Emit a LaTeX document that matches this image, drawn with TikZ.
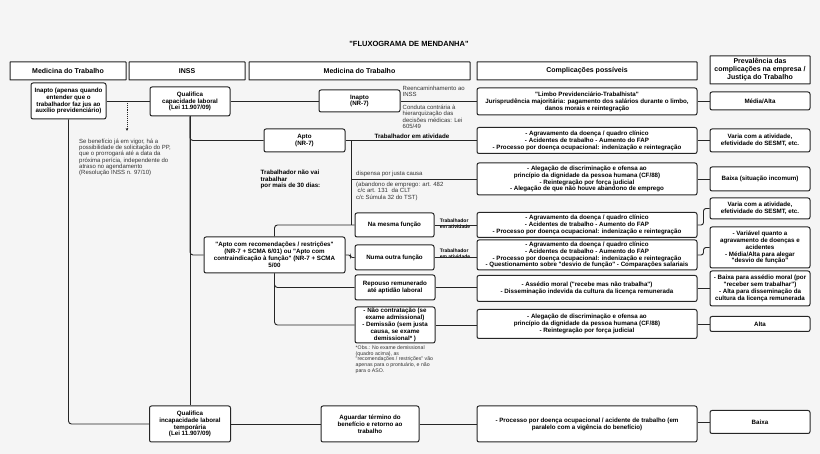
\documentclass[tikz,border=0pt]{standalone}
\usepackage{fontspec}
\setmainfont{Liberation Sans}[Ligatures=TeXOff]
\usetikzlibrary{arrows.meta}
\definecolor{bg}{HTML}{F5F5F5}
\definecolor{lc}{HTML}{262626}
\definecolor{tc}{HTML}{333333}
\tikzset{
  conn/.style={draw=lc, line width=0.9pt},
  box/.style={draw=lc, fill=white, line width=1pt, rounded corners=2pt, align=center, inner sep=1pt, text=black, font=\bfseries\fontsize{6.2}{6.9}\selectfont},
  hdr/.style={box, rounded corners=0.4pt, font=\bfseries\fontsize{7}{8}\selectfont},
  note/.style={align=left, inner sep=0pt, anchor=north west, text=tc, font=\fontsize{6}{6.3}\selectfont},
  lbl/.style={align=left, inner sep=0pt, text=black, font=\bfseries\fontsize{6.2}{6.4}\selectfont},
  slbl/.style={align=left, inner sep=0pt, text=black, font=\bfseries\fontsize{5}{5.6}\selectfont},
}
\begin{document}
\begin{tikzpicture}[x=1pt,y=-1pt]
\fill[bg] (0,0) rectangle (820,454);
\useasboundingbox (0,0) rectangle (820,454);

\node[font=\bfseries\fontsize{7.5}{9}\selectfont] (title) at (409,44) {"FLUXOGRAMA DE MENDANHA"};

\node[hdr, minimum width=116pt, minimum height=18pt] (h1) at (68,71) {Medicina do Trabalho};
\node[hdr, minimum width=116pt, minimum height=18pt] (h2) at (187,71) {INSS};
\node[hdr, minimum width=221pt, minimum height=18pt] (h3) at (359.5,71) {Medicina do Trabalho};
\node[hdr, minimum width=220pt, minimum height=18pt] (h4) at (587,71) {Complicações possíveis};
\node[hdr, minimum width=100pt, minimum height=28pt] (h5) at (760,70) {Prevalência das\\complicações na empresa /\\Justiça do Trabalho};

\node[box, minimum width=75pt, minimum height=36pt] (inapto0) at (68.5,101) {Inapto (apenas quando\\entender que o\\trabalhador faz jus ao\\auxílio previdenciário)};
\node[box, minimum width=80pt, minimum height=29pt] (qual1) at (190,101.5) {Qualifica\\capacidade laboral\\(Lei 11.907/09)};
\node[box, minimum width=81pt, minimum height=22pt] (inaptonr) at (359.5,101) {Inapto\\(NR-7)};
\node[box, minimum width=220pt, minimum height=27pt] (limbo) at (587,101.5) {"Limbo Previdenciário-Trabalhista"\\Jurisprudência majoritária: pagamento dos salários durante o limbo,\\danos morais e reintegração};
\node[box, minimum width=100pt, minimum height=18pt] (media) at (760,101) {Média/Alta};

\node[box, minimum width=81pt, minimum height=23pt] (apto) at (304.5,140.5) {Apto\\(NR-7)};
\node[box, minimum width=220pt, minimum height=26pt] (comp1) at (587,140.5) {- Agravamento da doença / quadro clínico\\- Acidentes de trabalho - Aumento do FAP\\- Processo por doença ocupacional: indenização e reintegração};
\node[box, minimum width=100pt, minimum height=23pt] (varia1) at (760,140.5) {Varia com a atividade,\\efetividade do SESMT, etc.};

\node[box, minimum width=220pt, minimum height=32pt] (aleg1) at (587,179) {- Alegação de discriminação e ofensa ao\\princípio da dignidade da pessoa humana (CF/88)\\- Reintegração por força judicial\\- Alegação de que não houve abandono de emprego};
\node[box, minimum width=100pt, minimum height=24pt] (baixa1) at (760,179) {Baixa (situação incomum)};

\node[box, minimum width=79pt, minimum height=24pt] (mesma) at (394.5,225) {Na mesma função};
\node[box, minimum width=220pt, minimum height=25pt] (comp2) at (587,225) {- Agravamento da doença / quadro clínico\\- Acidentes de trabalho - Aumento do FAP\\- Processo por doença ocupacional: indenização e reintegração};
\node[box, minimum width=100pt, minimum height=21pt] (varia2) at (760,208.5) {Varia com a atividade,\\efetividade do SESMT, etc.};

\node[box, minimum width=141pt, minimum height=36pt] (aptorec) at (274.5,255) {"Apto com recomendações / restrições"\\(NR-7 + SCMA 6/01) ou "Apto com\\contraindicação à função" (NR-7 + SCMA\\5/00};
\node[box, minimum width=79pt, minimum height=25pt] (outra) at (394.5,257.5) {Numa outra função};
\node[box, minimum width=220pt, minimum height=30pt] (comp3) at (587,255) {- Agravamento da doença / quadro clínico\\- Acidentes de trabalho - Aumento do FAP\\- Processo por doença ocupacional: indenização e reintegração\\- Questionamento sobre "desvio de função" - Comparações salariais};
\node[box, minimum width=100pt, minimum height=41pt] (variav) at (760,247.5) {- Variável quanto a\\agravamento de doenças e\\acidentes\\- Média/Alta para alegar\\"desvio de função"};

\node[box, minimum width=80pt, minimum height=25pt] (repouso) at (395,287.5) {Repouso remunerado\\até aptidão laboral};
\node[box, minimum width=220pt, minimum height=26pt] (comp4) at (587,288.5) {- Assédio moral ("recebe mas não trabalha")\\- Disseminação indevida da cultura da licença remunerada};
\node[box, minimum width=100pt, minimum height=35pt] (baixa2) at (760,288.5) {- Baixa para assédio moral (por\\"receber sem trabalhar")\\- Alta para disseminação da\\cultura da licença remunerada};

\node[box, minimum width=80pt, minimum height=36pt] (naocont) at (395,325) {- Não contratação (se\\exame admissional)\\- Demissão (sem justa\\causa, se exame\\demissional* )};
\node[box, minimum width=220pt, minimum height=29pt] (aleg2) at (587,324) {- Alegação de discriminação e ofensa ao\\princípio da dignidade da pessoa humana (CF/88)\\- Reintegração por força judicial};
\node[box, minimum width=100pt, minimum height=15pt] (alta) at (760,324) {Alta};

\node[box, minimum width=81pt, minimum height=36pt] (qual2) at (190,424) {Qualifica\\incapacidade laboral\\temporária\\(Lei 11.907/09)};
\node[box, minimum width=98pt, minimum height=36pt] (aguardar) at (370,424) {Aguardar término do\\benefício e retorno ao\\trabalho};
\node[box, minimum width=220pt, minimum height=36pt] (comp5) at (587,424) {- Processo por doença ocupacional / acidente de trabalho (em\\paralelo com a vigência do benefício)};
\node[box, minimum width=100pt, minimum height=23pt] (baixa3) at (760,422) {Baixa};

% free texts
\node[note] (txtpp) at (79,138.5) {Se benefício já em vigor, há a\\possibilidade de solicitação do PP,\\que o prorrogará até a data da\\próxima perícia, independente do\\atraso no agendamento\\(Resolução INSS n. 97/10)};
\node[note] (txtre) at (402.5,86) {Reencaminhamento ao\\INSS};
\node[note] (txtco) at (402.5,105) {Conduta contrária à\\hierarquização das\\decisões médicas: Lei\\605/49};
\node[lbl, anchor=south] (lblat) at (412,139) {Trabalhador em atividade};
\node[lbl, anchor=north west] (lbl30) at (260.5,170) {Trabalhador não vai\\trabalhar\\por mais de 30 dias:};
\node[note] (txtdj) at (356,171) {dispensa por justa causa};
\node[note] (txtab) at (356,182) {(abandono de emprego: art. 482\\\hspace*{1.5pt}c/c art. 131\hspace{2pt} da CLT\\c/c Súmula 32 do TST)};
\node[slbl] (lblm) at (455,223.5) {Trabalhador\\em atividade};
\node[slbl] (lblo) at (455,254) {Trabalhador\\em atividade};
\node[note, font=\fontsize{5.2}{5.7}\selectfont] (txtobs) at (355.5,345.5) {*Obs.: No exame demissional\\(quadro acima), as\\"recomendações / restrições" vão\\apenas para o prontuário, e não\\para o ASO.};

% connectors
\coordinate (d0) at (127,101);
\coordinate (d1) at (127,131);
\coordinate (j1) at (351,140.5);
\coordinate (j2) at (351,225);
\draw[conn] (inapto0.east) -- (qual1.west |- inapto0.east);
\draw[conn, densely dotted, -{Stealth[length=3pt,width=2.6pt]}] (d0) -- (d1);
\draw[conn] (qual1.east |- inaptonr.west) -- (inaptonr.west);
\draw[conn] (inaptonr.east) -- (limbo.west |- inaptonr.east);
\draw[conn] (limbo.east |- media.west) -- (media.west);

\draw[conn] (qual1.south) -- (qual2.north);
\draw[conn, rounded corners=3pt] (qual1.south) |- (apto.west);
\draw[conn, rounded corners=3pt] (qual1.south) |- (aptorec.west);

\draw[conn] (apto.east) -- (comp1.west);
\draw[conn] (comp1.east) -- (varia1.west);

\draw[conn, rounded corners=3pt] (aptorec.north) |- (mesma.west);
\draw[conn] (j1) -- (j2);
\draw[conn] (j1 |- aleg1.west) -- (aleg1.west);
\draw[conn] (aleg1.east) -- (baixa1.west);

\draw[conn] (mesma.east) -- (comp2.west);
\draw[conn, rounded corners=2.5pt] (comp2.east) -- ++(6,0) |- (varia2.west);
\draw[conn, rounded corners=2pt] (aptorec.east) -- ++(5,0) |- (outra.west);
\draw[conn] (outra.east) -- (outra.east -| comp3.west);
\draw[conn, rounded corners=2.5pt] (comp3.east) -- ++(6,0) |- (variav.west);

\draw[conn, rounded corners=3pt] (aptorec.south) |- (repouso.west);
\draw[conn, rounded corners=3pt] (aptorec.south) |- (naocont.west);
\draw[conn] (repouso.east) -- (repouso.east -| comp4.west);
\draw[conn] (comp4.east) -- (baixa2.west);
\draw[conn] (naocont.east) -- (naocont.east -| aleg2.west);
\draw[conn] (aleg2.east) -- (alta.west);

\draw[conn, rounded corners=3pt] (inapto0.south) |- (qual2.west);
\draw[conn] (qual2.east) -- (aguardar.west);
\draw[conn] (aguardar.east) -- (comp5.west);
\draw[conn] (comp5.east |- baixa3.west) -- (baixa3.west);
\end{tikzpicture}
\end{document}
